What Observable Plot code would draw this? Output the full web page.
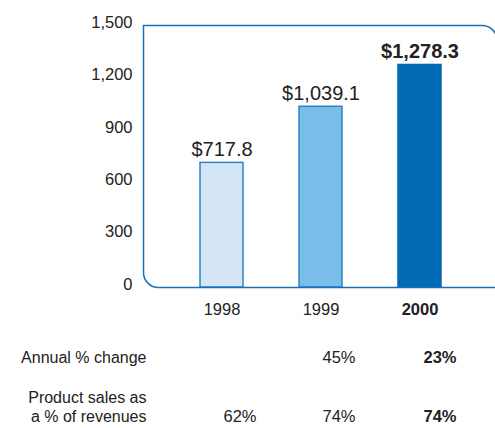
<!DOCTYPE html>
<html>
<head>
<meta charset="utf-8">
<script src="https://cdn.jsdelivr.net/npm/d3@7"></script>
<script src="https://cdn.jsdelivr.net/npm/@observablehq/plot@0.6"></script>
<style>
  html, body { margin: 0; padding: 0; background: #fff; }
  svg { display: block; }
</style>
</head>
<body>
<div id="chart"></div>
<script>
const years = ["1998", "1999", "2000"];
const revenues = [717.8, 1039.1, 1278.3];
const revenueLabels = ["$717.8", "$1,039.1", "$1,278.3"];
const annualChange = ["", "45%", "23%"];
const productShare = ["62%", "74%", "74%"];
const yTicks = [0, 300, 600, 900, 1200, 1500];
const fills = ["#d4e6f6", "#79bde9", "#006bb4"];
const strokes = ["#2d84c6", "#2d84c6", "#006bb4"];

const data = years.map((y, i) => ({
  year: y, value: revenues[i], label: revenueLabels[i],
  change: annualChange[i], share: productShare[i],
  fill: fills[i], stroke: strokes[i], bold: y === "2000"
}));

const W = 495, H = 428, mt = 25, mb = 141, ml = 143;
const font = "'Liberation Sans', Arial, sans-serif";

// rounded frame: bottom-left and top-right corners rounded
function roundedFrame(index, scales, values, dims) {
  const l = dims.marginLeft + 0.5, t = dims.marginTop + 0.5;
  const b = dims.height - dims.marginBottom + 0.5, r = dims.width + 2, rad = 15;
  const p = d3.create("svg:path")
    .attr("fill", "none").attr("stroke", "#1b6fb6").attr("stroke-width", 1.5)
    .attr("d", `M${r},${b} L${l + rad},${b} A${rad},${rad} 0 0 1 ${l},${b - rad} L${l},${t} L${r - rad},${t} A${rad},${rad} 0 0 1 ${r},${t + rad} L${r},${b}`);
  return p.node();
}

const txt = (d, opts) => Plot.text(d, {fontFamily: font, fill: "#222", ...opts});

const plot = Plot.plot({
  width: W, height: H,
  marginTop: mt, marginBottom: mb, marginLeft: ml, marginRight: 0,
  style: {fontFamily: font, background: "#fff", overflow: "visible"},
  x: {domain: years, range: [141.5, 498.5], padding: 0.57, axis: null},
  y: {domain: [0, 1500], axis: null},
  marks: [
    Plot.axisY({ticks: yTicks, tickSize: 0, tickPadding: 11, tickFormat: d3.format(","),
      fontSize: 16.5, fill: "#222", fontFamily: font, label: null, dy: -3}),
    Plot.barY(data, {x: "year", y: "value", fill: d => d.fill, stroke: d => d.stroke, strokeWidth: 1.5, insetTop: 0.75, insetBottom: 0}),
    roundedFrame,
    txt(data.filter(d => !d.bold), {x: "year", y: "value", text: "label", lineAnchor: "bottom", dy: -6, fontSize: 20}),
    txt(data.filter(d => d.bold), {x: "year", y: "value", text: "label", lineAnchor: "bottom", dy: -6, fontSize: 20, fontWeight: "bold"}),
    // x category labels
    txt(data.filter(d => !d.bold), {x: "year", text: "year", frameAnchor: "bottom", dy: 27, fontSize: 16.5}),
    txt(data.filter(d => d.bold), {x: "year", text: "year", frameAnchor: "bottom", dy: 27, fontSize: 16.5, fontWeight: "bold"}),
    // table row labels
    txt(["Annual % change"], {frameAnchor: "bottom-left", textAnchor: "end", dx: 3, dy: 75, fontSize: 16}),
    txt(["Product sales as"], {frameAnchor: "bottom-left", textAnchor: "end", dx: 3, dy: 115, fontSize: 16}),
    txt(["a % of revenues"], {frameAnchor: "bottom-left", textAnchor: "end", dx: 3, dy: 134, fontSize: 16}),
    // table values
    txt(data.filter(d => !d.bold), {x: "year", text: "change", frameAnchor: "bottom", dx: 18, dy: 75, fontSize: 16.5}),
    txt(data.filter(d => d.bold), {x: "year", text: "change", frameAnchor: "bottom", dx: 20, dy: 75, fontSize: 16.5, fontWeight: "bold"}),
    txt(data.filter(d => !d.bold), {x: "year", text: "share", frameAnchor: "bottom", dx: 18, dy: 134, fontSize: 16.5}),
    txt(data.filter(d => d.bold), {x: "year", text: "share", frameAnchor: "bottom", dx: 20, dy: 134, fontSize: 16.5, fontWeight: "bold"})
  ]
});
document.getElementById("chart").appendChild(plot);
</script>
</body>
</html>
